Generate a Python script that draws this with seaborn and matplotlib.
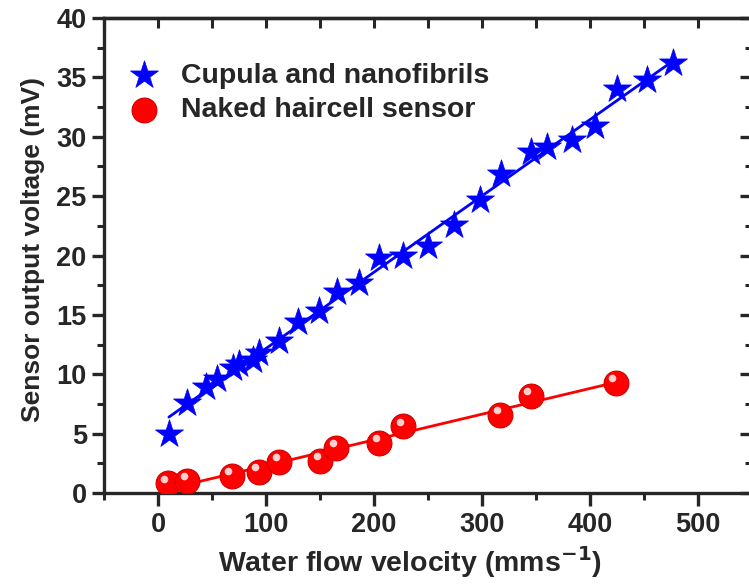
import matplotlib
matplotlib.use("Agg")
import matplotlib.pyplot as plt
from matplotlib.transforms import offset_copy
from matplotlib.ticker import MultipleLocator
import seaborn as sns
import numpy as np

# cupula + nanofibrils (blue stars)
cup_x = [10, 27, 44, 55, 69, 75, 88, 93, 112, 130, 149, 166, 186, 205, 227,
         250, 274, 298, 318, 345, 360, 383, 405, 425, 453, 477]
cup_y = [5.0, 7.6, 8.9, 9.6, 10.5, 10.9, 11.2, 11.8, 12.8, 14.4, 15.3, 16.9, 17.7,
         19.8, 20.0, 20.8, 22.6, 24.7, 26.9, 28.7, 29.1, 29.7, 30.9, 34.0, 34.8, 36.2]

# naked haircell sensor (red spheres)
nak_x = [9, 27, 68, 93, 112, 150, 165, 205, 227, 317, 345, 424]
nak_y = [0.8, 1.0, 1.4, 1.8, 2.6, 2.7, 3.8, 4.2, 5.6, 6.6, 8.2, 9.3]

sns.set_style("ticks")
plt.rcParams["font.family"] = ["Liberation Sans", "DejaVu Sans"]
plt.rcParams["font.weight"] = "bold"
plt.rcParams["axes.labelweight"] = "bold"

fig = plt.figure(figsize=(7.49, 5.84), dpi=100)
ax = fig.add_axes([0.139, 0.156, 0.865, 0.813])

# fitted lines
sns.regplot(x=cup_x, y=cup_y, scatter=False, ci=None, color="#0000ff",
            line_kws=dict(lw=2), ax=ax)
sns.regplot(x=nak_x, y=nak_y, scatter=False, ci=None, color="#ff0000",
            line_kws=dict(lw=2), ax=ax)

sns.scatterplot(x=cup_x, y=cup_y, marker="*", s=450, color="#0000ff",
                edgecolor="#0000ff", linewidth=0.5, label="Cupula and nanofibrils",
                ax=ax, zorder=3)
sns.scatterplot(x=nak_x, y=nak_y, marker="o", s=320, color="#ff0000",
                edgecolor="#d00000", linewidth=0.8, label="Naked haircell sensor",
                ax=ax, zorder=3)
# little shine on the balls
shine = offset_copy(ax.transData, fig=fig, x=-2.5, y=3.5, units="points")
ax.scatter(nak_x, nak_y, marker="o", s=30, color="#ffd0d0", linewidth=0,
           transform=shine, zorder=4)

ax.set_xlim(-50, 550)
ax.set_ylim(0, 40)
ax.xaxis.set_major_locator(MultipleLocator(100))
ax.xaxis.set_minor_locator(MultipleLocator(50))
ax.yaxis.set_major_locator(MultipleLocator(5))
ax.yaxis.set_minor_locator(MultipleLocator(2.5))

for s in ax.spines.values():
    s.set_linewidth(2.4)
ax.tick_params(which="major", length=9, width=2.4, labelsize=19.5, direction="out")
ax.tick_params(which="minor", length=5, width=2.2, direction="out")
ax.tick_params(axis="x", pad=5)

# top and right ticks point inward
top = ax.secondary_xaxis("top")
top.xaxis.set_major_locator(MultipleLocator(50))
top.tick_params(direction="in", length=7, width=2.2, labeltop=False)
right = ax.secondary_yaxis("right")
right.yaxis.set_major_locator(MultipleLocator(5))
right.yaxis.set_minor_locator(MultipleLocator(2.5))
right.tick_params(which="major", direction="in", length=9, width=2.4, labelright=False)
right.tick_params(which="minor", direction="in", length=5, width=2.2)
for sp in list(top.spines.values()) + list(right.spines.values()):
    sp.set_linewidth(2.4)

ax.set_xlabel("Water flow velocity (mms$^{\\mathbf{-1}}$)", fontsize=20.5)
ax.set_ylabel("Sensor output voltage (mV)", fontsize=19)
ax.xaxis.set_label_coords(0.472, -0.107)
ax.yaxis.set_label_coords(-0.092, 0.512)

ax.legend(loc="upper left", bbox_to_anchor=(-0.013, 0.948), frameon=False,
          handletextpad=0.3, labelspacing=0.3, borderaxespad=0.3,
          prop=dict(weight="bold", size=20.5))

fig.savefig("out.png", dpi=100)
